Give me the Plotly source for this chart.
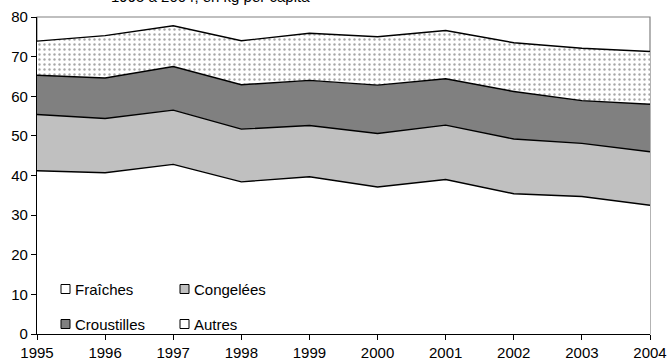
import plotly.graph_objects as go

years = [1995, 1996, 1997, 1998, 1999, 2000, 2001, 2002, 2003, 2004]
fraiches = [41.2, 40.7, 42.8, 38.4, 39.7, 37.1, 39.0, 35.4, 34.7, 32.5]
congelees = [14.2, 13.7, 13.7, 13.3, 12.9, 13.5, 13.7, 13.8, 13.4, 13.5]
croustilles = [9.9, 10.2, 11.0, 11.2, 11.4, 12.2, 11.7, 12.0, 10.8, 12.0]
autres = [8.6, 10.7, 10.3, 11.1, 11.9, 12.2, 12.2, 12.3, 13.2, 13.3]
y_ticks = [0, 10, 20, 30, 40, 50, 60, 70, 80]
title_text = "1995 à 2004, en kg per capita"

FONT = "Liberation Sans, Arial, sans-serif"
FS = 15
W, H = 670, 363
L, R, T, B = 37, 20, 17, 29
PW, PH = W - L - R, H - T - B

fig = go.Figure()
series = [
    ("Fraîches", fraiches, "#FFFFFF", None),
    ("Congelées", congelees, "#C0C0C0", None),
    ("Croustilles", croustilles, "#808080", None),
    ("Autres", autres, "#FFFFFF",
     dict(shape=".", fgcolor="#505050", bgcolor="#FFFFFF", size=5, solidity=0.18)),
]
for name, vals, col, patt in series:
    kw = dict(
        x=years, y=vals, name=name, mode="lines", stackgroup="one",
        line=dict(color="black", width=1.4), fillcolor=col, showlegend=False,
    )
    if patt:
        kw["fillpattern"] = patt
    fig.add_trace(go.Scatter(**kw))

# frame (top/right grey)
fig.add_shape(type="rect", xref="paper", yref="paper", x0=0, x1=1, y0=0, y1=1,
              line=dict(color="#808080", width=1.2), layer="below")

# manual legend
def px2x(p):
    return (p - L) / PW

def py2y(p):
    return (H - B - p) / PH

legend_items = [
    ("Fraîches", "#FFFFFF", 61, 289),
    ("Congelées", "#C0C0C0", 180, 289),
    ("Croustilles", "#808080", 61, 324),
    ("Autres", "#FFFFFF", 180, 324),
]
for name, col, sx, cy in legend_items:
    fig.add_shape(type="rect", xref="paper", yref="paper",
                  x0=px2x(sx), x1=px2x(sx + 9), y0=py2y(cy + 4.5), y1=py2y(cy - 4.5),
                  line=dict(color="black", width=1), fillcolor=col, layer="above")
    fig.add_annotation(x=px2x(sx + 12), y=py2y(cy), xref="paper", yref="paper",
                       text=name, showarrow=False, xanchor="left", yanchor="middle",
                       font=dict(family=FONT, size=FS, color="black"))

fig.add_annotation(x=px2x(210), y=1 + 10 / PH, xref="paper", yref="paper",
                   text=title_text, showarrow=False, xanchor="center", yanchor="bottom",
                   font=dict(family=FONT, size=FS, color="black"))

fig.update_layout(
    width=W, height=H,
    margin=dict(l=L, r=R, t=T, b=B, pad=0, autoexpand=False),
    paper_bgcolor="white", plot_bgcolor="white",
    font=dict(family=FONT, size=FS, color="black"),
    xaxis=dict(range=[1995, 2004], tickvals=years, ticktext=[str(y) for y in years],
               showgrid=False, zeroline=False, showline=True, linecolor="black",
               linewidth=1.2, ticks="outside", ticklen=5, tickcolor="black",
               tickfont=dict(size=FS), automargin=False),
    yaxis=dict(range=[0, 80], tickvals=y_ticks, showgrid=False, zeroline=False,
               showline=True, linecolor="black", linewidth=1.2, ticks="outside",
               ticklen=5, tickcolor="black", tickfont=dict(size=FS), automargin=False),
)

fig.write_html("out.html")
